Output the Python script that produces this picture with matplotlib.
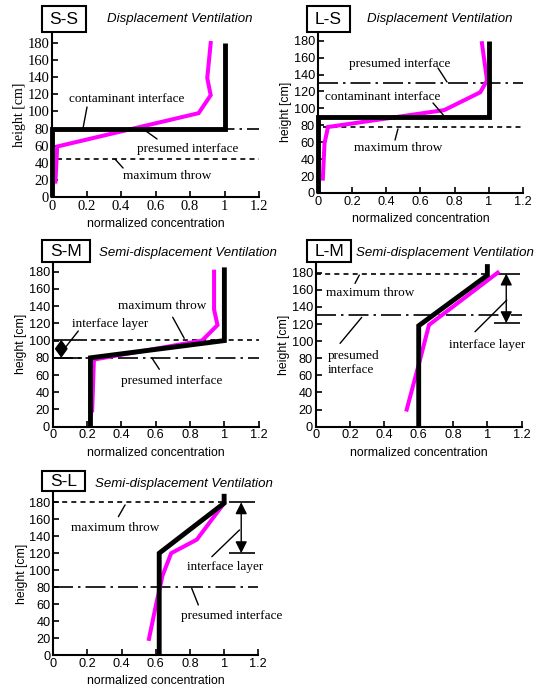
import matplotlib
matplotlib.use("Agg")
import matplotlib.pyplot as plt
from matplotlib.patches import Rectangle

W, H = 536, 697
SERIF = "Liberation Serif"
SANS = "Liberation Sans"
MAG = "#ff00ff"

# ---- data ----
x_ticks = [0, 0.2, 0.4, 0.6, 0.8, 1.0, 1.2]
x_ticklabels = ["0", "0.2", "0.4", "0.6", "0.8", "1", "1.2"]
y_ticks = [0, 20, 40, 60, 80, 100, 120, 140, 160, 180]

# S-S
ss_mag_x = [0.02, 0.03, 0.85, 0.92, 0.90, 0.92]
ss_mag_y = [18, 59, 98, 119, 139, 180]
ss_blk_x = [0, 0, 1.0, 1.0]
ss_blk_y = [0, 80, 80, 180]
ss_presumed = 80
ss_throw = 45

# L-S
ls_mag_x = [0.03, 0.04, 0.06, 0.74, 0.95, 0.99, 0.96]
ls_mag_y = [17, 59, 78, 98, 119, 133, 177]
ls_blk_x = [0, 0, 1.0, 1.0]
ls_blk_y = [0, 90, 90, 180]
ls_presumed = 130
ls_throw = 78

# S-M
sm_mag_x = [0.23, 0.24, 0.87, 0.96, 0.94, 0.94]
sm_mag_y = [19, 78, 100, 118, 136, 180]
sm_blk_x = [0.22, 0.22, 1.0, 1.0]
sm_blk_y = [0, 80, 100, 185]
sm_presumed = 80
sm_throw = 101
sm_layer = (80, 101)

# L-M
lm_mag_x = [0.53, 0.61, 0.66, 1.06]
lm_mag_y = [20, 80, 119, 180]
lm_blk_x = [0.6, 0.6, 1.0, 1.0]
lm_blk_y = [0, 118, 177, 190]
lm_presumed = 130
lm_throw = 179
lm_layer = (121, 179)

# S-L
sl_mag_x = [0.56, 0.60, 0.64, 0.69, 0.84, 1.0]
sl_mag_y = [19, 58, 94, 120, 136, 179]
sl_blk_x = [0.62, 0.62, 1.0, 1.0]
sl_blk_y = [0, 120, 179, 190]
sl_presumed = 80
sl_throw = 180
sl_layer = (120, 180)

fig = plt.figure(figsize=(W / 100, H / 100), dpi=100)


def make_ax(x0, x12, y0, y180, tickfont, ytop=192):
    ppc = (y0 - y180) / 180
    top_px = y0 - ytop * ppc
    ax = fig.add_axes([x0 / W, 1 - y0 / H, (x12 - x0) / W, (y0 - top_px) / H])
    ax.set_xlim(0, 1.2)
    ax.set_ylim(0, ytop)
    for s in ["top", "right"]:
        ax.spines[s].set_visible(False)
    for s in ["left", "bottom"]:
        ax.spines[s].set_linewidth(1.5)
    ax.set_xticks(x_ticks)
    ax.set_xticklabels(x_ticklabels)
    ax.set_yticks(y_ticks)
    ax.tick_params(direction="in", length=4, width=1.2, pad=2)
    size = 10.5 if tickfont == SERIF else 9.2
    for lab in ax.get_xticklabels() + ax.get_yticklabels():
        lab.set_fontfamily(tickfont)
        lab.set_fontsize(size)
    ax.set_xlabel("normalized concentration", fontfamily=SANS, fontsize=8.8, labelpad=4)
    ax.set_ylabel("height [cm]", fontfamily=tickfont,
                  fontsize=10 if tickfont == SERIF else 8.8, labelpad=1)
    return ax


def draw_lines(ax, bx, by, mx, my):
    ax.plot(mx, my, color=MAG, lw=2.9, zorder=3, solid_joinstyle="miter")
    ax.plot(bx, by, color="black", lw=3.5, zorder=4, clip_on=False,
            solid_joinstyle="miter", solid_capstyle="butt")


def dashdot(ax, y, x1=0, x2=1.2):
    ax.hlines(y, x1, x2, colors="black", lw=1.2, linestyles=(0, (12, 3, 1.5, 3)), zorder=2)


def dashed(ax, y, x1=0, x2=1.2):
    ax.hlines(y, x1, x2, colors="black", lw=1.2, linestyles=(0, (3, 2.5)), zorder=2)


def note(ax, s, txy, a, b, ha="center"):
    ax.text(txy[0], txy[1], s, fontfamily=SERIF, fontsize=9.5, ha=ha, va="center", zorder=6)
    ax.annotate("", xy=b, xytext=a,
                arrowprops=dict(arrowstyle="-", lw=1.0, color="black", shrinkA=0, shrinkB=0))


def layer_arrow(ax, x, lo, hi, hl=0.7, hw=0.35):
    ax.annotate("", xy=(x, hi), xytext=(x, lo),
                arrowprops=dict(arrowstyle=f"<|-|>,head_length={hl},head_width={hw}",
                                lw=1.0, color="black", shrinkA=0, shrinkB=0,
                                mutation_scale=10))


def label_box(x1, y1, x2, y2, s):
    fig.patches.append(Rectangle((x1 / W, 1 - y2 / H), (x2 - x1) / W, (y2 - y1) / H,
                                 transform=fig.transFigure, fc="white", ec="black",
                                 lw=1.5, zorder=5))
    fig.text((x1 + x2) / 2 / W, 1 - (y1 + y2) / 2 / H, s, fontfamily=SANS,
             fontsize=12.5, ha="center", va="center", zorder=6)


def title(x, y, s, ha="center"):
    fig.text(x / W, 1 - y / H, s, fontfamily=SANS, fontstyle="italic",
             fontsize=9.5, ha=ha, va="center")


# ---- S-S ----
ax = make_ax(52, 259, 197, 43, SERIF)
dashdot(ax, ss_presumed)
dashed(ax, ss_throw, 0.03)
draw_lines(ax, ss_blk_x, ss_blk_y, ss_mag_x, ss_mag_y)
note(ax, "contaminant interface", (0.435, 114.5), (0.203, 105.2), (0.18, 80.6))
note(ax, "presumed interface", (0.788, 56), (0.609, 67.8), (0.528, 79.5))
note(ax, "maximum throw", (0.667, 24.5), (0.412, 33.9), (0.365, 44.4))
label_box(42, 6, 86, 32, "S-S")
title(180, 19, "Displacement Ventilation")

# ---- L-S ----
ax = make_ax(317.7, 523, 193, 40.7, SANS)
dashdot(ax, ls_presumed)
dashed(ax, ls_throw, 0.03)
draw_lines(ax, ls_blk_x, ls_blk_y, ls_mag_x, ls_mag_y)
note(ax, "presumed interface", (0.481, 152.5), (0.703, 147.8), (0.756, 131.2))
note(ax, "contaminant interface", (0.382, 113.5), (0.674, 106.4), (0.744, 89.8))
note(ax, "maximum throw", (0.469, 53.2), (0.452, 62.6), (0.469, 75.7))
label_box(307, 6, 350, 32, "L-S")
title(440, 19, "Displacement Ventilation")

# ---- S-M ----
ax = make_ax(52.7, 258.7, 426.7, 271.7, SANS)
dashdot(ax, sm_presumed)
dashed(ax, sm_throw, 0.17)
ax.hlines(list(sm_layer), 0.01, 0.17, colors="black", lw=1.2, zorder=2)
layer_arrow(ax, 0.05, sm_layer[0], sm_layer[1], hl=0.55, hw=0.4)
draw_lines(ax, sm_blk_x, sm_blk_y, sm_mag_x, sm_mag_y)
note(ax, "maximum throw", (0.635, 140.2), (0.699, 127.1), (0.766, 102.7))
note(ax, "interface layer", (0.334, 118.9), (0.149, 111.1), (0.062, 89.1))
note(ax, "presumed interface", (0.693, 53.4), (0.577, 80.1), (0.621, 66.7))
label_box(42, 240, 90, 262, "S-M")
title(99, 253, "Semi-displacement Ventilation", ha="left")

# ---- L-M ----
ax = make_ax(315.7, 521.7, 426.7, 272.7, SANS)
dashdot(ax, lm_presumed)
dashed(ax, lm_throw, 0.0, 0.99)
ax.hlines(list(lm_layer), 1.04, 1.19, colors="black", lw=1.2, zorder=2)
layer_arrow(ax, 1.11, lm_layer[0], lm_layer[1])
draw_lines(ax, lm_blk_x, lm_blk_y, lm_mag_x, lm_mag_y)
note(ax, "maximum throw", (0.316, 155.8), (0.229, 167.5), (0.254, 177.2))
note(ax, "presumed\ninterface", (0.073, 74.4), (0.142, 97.4), (0.268, 127.8), ha="left")
note(ax, "interface layer", (0.996, 95.4), (0.928, 111), (1.113, 148))
label_box(307, 240, 351, 262, "L-M")
title(356, 253, "Semi-displacement Ventilation", ha="left")

# ---- S-L ----
ax = make_ax(53.3, 258.3, 655, 502.3, SANS)
dashdot(ax, sl_presumed)
dashed(ax, sl_throw, 0.0, 0.99)
ax.hlines(list(sl_layer), 1.03, 1.18, colors="black", lw=1.2, zorder=2)
layer_arrow(ax, 1.10, sl_layer[0], sl_layer[1])
draw_lines(ax, sl_blk_x, sl_blk_y, sl_mag_x, sl_mag_y)
note(ax, "maximum throw", (0.361, 149.4), (0.381, 163.1), (0.42, 176.9))
note(ax, "interface layer", (1.006, 104.1), (0.928, 115.9), (1.09, 147.4))
note(ax, "presumed interface", (1.045, 46), (0.81, 78.7), (0.849, 59))
label_box(42, 471, 85, 491, "S-L")
title(95, 484, "Semi-displacement Ventilation", ha="left")

fig.savefig("out.png", dpi=100)
